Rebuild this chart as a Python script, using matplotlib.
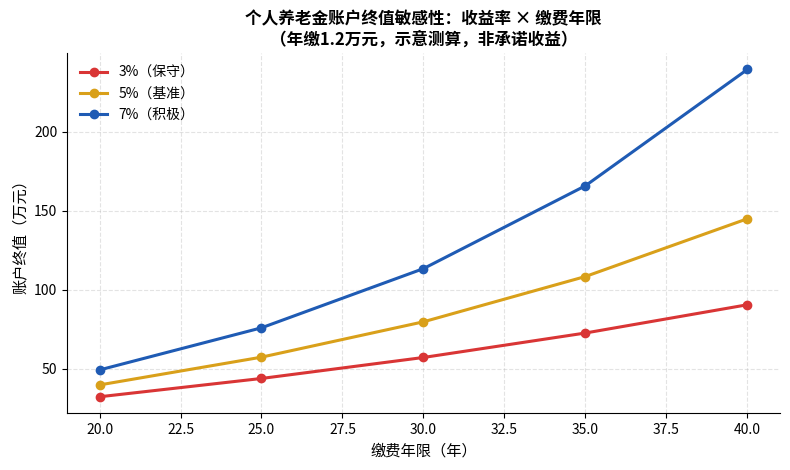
import matplotlib
matplotlib.use('Agg')
import matplotlib.pyplot as plt

plt.rcParams['font.family'] = ['Noto Sans CJK SC', 'DejaVu Sans']
plt.rcParams['axes.unicode_minus'] = False

# 缴费年限 (years) and account end values (万元)
years = [20, 25, 30, 35, 40]
rate_3 = [32.2, 43.8, 57.1, 72.6, 90.5]
rate_5 = [39.7, 57.3, 79.7, 108.4, 145.0]
rate_7 = [49.2, 75.9, 113.4, 165.9, 239.6]
series_labels = ['3%（保守）', '5%（基准）', '7%（积极）']
colors = ['#d93535', '#d9a01a', '#1f5bb4']

fig, ax = plt.subplots(figsize=(7.9, 4.7), dpi=100)
for vals, lab, c in zip([rate_3, rate_5, rate_7], series_labels, colors):
    ax.plot(years, vals, marker='o', markersize=6, linewidth=2.2, color=c, label=lab)

ax.set_title('个人养老金账户终值敏感性：收益率 × 缴费年限\n（年缴1.2万元，示意测算，非承诺收益）',
             fontsize=12, fontweight='bold')
ax.set_xlabel('缴费年限（年）', fontsize=11)
ax.set_ylabel('账户终值（万元）', fontsize=11)
ax.grid(True, linestyle='--', alpha=0.35)
ax.spines['top'].set_visible(False)
ax.spines['right'].set_visible(False)
ax.legend(loc='upper left', frameon=False, fontsize=10)

fig.subplots_adjust(left=0.085, right=0.987, top=0.887, bottom=0.121)
fig.savefig('out.png', dpi=100)
